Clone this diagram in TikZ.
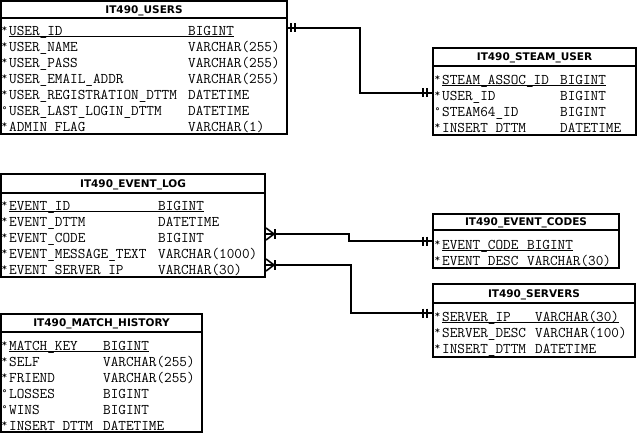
\documentclass[tikz,border=0pt]{standalone}
\usepackage{fontspec}
\newfontfamily\titlefont{DejaVu Sans}
\newfontfamily\markfont{DejaVu Sans}
\tikzset{
  tbl/.style={draw, line width=1.6pt},
  ttl/.style={font=\titlefont\bfseries\fontsize{10.5}{10.5}\selectfont, inner sep=0, anchor=base},
  fld/.style={font=\ttfamily\fontsize{14.8}{14.8}\selectfont, anchor=base west, inner sep=0},
  mk/.style={font=\markfont\bfseries\fontsize{9}{9}\selectfont, anchor=base, inner sep=0},
  conn/.style={line width=1.6pt},
  pkline/.style={line width=0.8pt},
}
% #1 id, #2 marker, #3 xmark, #4 xname, #5 xtype, #6 y, #7 field, #8 type
\newcommand\frow[8]{%
  \node[mk] (#1m) at (#3,#6+2.8) {#2};
  \node[fld] (#1n) at (#4,#6+4.5) {#7};
  \node[fld] (#1t) at (#5,#6+4.5) {#8};
}
\newcommand\pkul[1]{%
  \draw[pkline] ([yshift=-1.3pt]#1n.base west) -- ([yshift=-1.3pt]#1t.base east);
}
\begin{document}
\begin{tikzpicture}[x=1pt,y=-1pt]
\useasboundingbox (0,0) rectangle (637,433);
\fill[white] (0,0) rectangle (637,433);

% ---------- IT490_USERS ----------
\draw[tbl] (1,1) rectangle (287,134);
\draw[tbl] (1,18) -- (287,18);
\node[ttl] (usersT) at (144,13.4) {IT490\_USERS};
\frow{ua}{*}{4.5}{9}{188}{31}{USER\_ID}{BIGINT}
\frow{ub}{*}{4.5}{9}{188}{47}{USER\_NAME}{VARCHAR(255)}
\frow{uc}{*}{4.5}{9}{188}{63}{USER\_PASS}{VARCHAR(255)}
\frow{ud}{*}{4.5}{9}{188}{79}{USER\_EMAIL\_ADDR}{VARCHAR(255)}
\frow{ue}{*}{4.5}{9}{188}{95}{USER\_REGISTRATION\_DTTM}{DATETIME}
\frow{uf}{°}{4.5}{9}{188}{111}{USER\_LAST\_LOGIN\_DTTM}{DATETIME}
\frow{ug}{*}{4.5}{9}{188}{127}{ADMIN\_FLAG}{VARCHAR(1)}
\pkul{ua}

% ---------- IT490_STEAM_USER ----------
\draw[tbl] (433,48) rectangle (636,135);
\draw[tbl] (433,66) -- (636,66);
\node[ttl] (steamT) at (534.5,60.9) {IT490\_STEAM\_USER};
\frow{sa}{*}{437.5}{442}{560}{80}{STEAM\_ASSOC\_ID}{BIGINT}
\frow{sb}{*}{437.5}{442}{560}{96}{USER\_ID}{BIGINT}
\frow{sc}{°}{437.5}{442}{560}{112}{STEAM64\_ID}{BIGINT}
\frow{sd}{*}{437.5}{442}{560}{128}{INSERT\_DTTM}{DATETIME}
\pkul{sa}

% ---------- IT490_EVENT_LOG ----------
\draw[tbl] (1,174) rectangle (265,277);
\draw[tbl] (1,193) -- (265,193);
\node[ttl] (logT) at (133,187.4) {IT490\_EVENT\_LOG};
\frow{la}{*}{4.5}{9}{158}{206}{EVENT\_ID}{BIGINT}
\frow{lb}{*}{4.5}{9}{158}{222}{EVENT\_DTTM}{DATETIME}
\frow{lc}{*}{4.5}{9}{158}{238}{EVENT\_CODE}{BIGINT}
\frow{ld}{*}{4.5}{9}{158}{254}{EVENT\_MESSAGE\_TEXT}{VARCHAR(1000)}
\frow{le}{*}{4.5}{9}{158}{270}{EVENT\_SERVER\_IP}{VARCHAR(30)}
\pkul{la}

% ---------- IT490_EVENT_CODES ----------
\draw[tbl] (433,214) rectangle (619,268);
\draw[tbl] (433,230) -- (619,230);
\node[ttl] (codesT) at (526,225.9) {IT490\_EVENT\_CODES};
\frow{ca}{*}{437.5}{442}{527}{245}{EVENT\_CODE}{BIGINT}
\frow{cb}{*}{437.5}{442}{527}{261}{EVENT\_DESC}{VARCHAR(30)}
\pkul{ca}

% ---------- IT490_SERVERS ----------
\draw[tbl] (433,284) rectangle (635,357);
\draw[tbl] (433,303) -- (635,303);
\node[ttl] (srvT) at (534,297.4) {IT490\_SERVERS};
\frow{va}{*}{437.5}{442}{535}{317}{SERVER\_IP}{VARCHAR(30)}
\frow{vb}{*}{437.5}{442}{535}{333}{SERVER\_DESC}{VARCHAR(100)}
\frow{vc}{*}{437.5}{442}{535}{349}{INSERT\_DTTM}{DATETIME}
\pkul{va}

% ---------- IT490_MATCH_HISTORY ----------
\draw[tbl] (1,314) rectangle (202,432);
\draw[tbl] (1,332) -- (202,332);
\node[ttl] (matchT) at (101.5,326.9) {IT490\_MATCH\_HISTORY};
\frow{ma}{*}{4.5}{9}{103}{346}{MATCH\_KEY}{BIGINT}
\frow{mb}{*}{4.5}{9}{103}{362}{SELF}{VARCHAR(255)}
\frow{mc}{*}{4.5}{9}{103}{378}{FRIEND}{VARCHAR(255)}
\frow{md}{°}{4.5}{9}{103}{394}{LOSSES}{BIGINT}
\frow{me}{°}{4.5}{9}{103}{410}{WINS}{BIGINT}
\frow{mf}{*}{4.5}{9}{103}{426}{INSERT\_DTTM}{DATETIME}
\pkul{ma}

% ---------- connectors ----------
% USERS -> STEAM_USER
\coordinate (c1a) at (287,28);
\coordinate (c1m) at (360,0);
\coordinate (c1b) at (433,93);
\draw[conn] (c1a) -| (c1m |- c1b) -- (c1b);
\draw[conn] ([xshift=4pt]c1a) ++(0,-4.5) -- ++(0,9);
\draw[conn] ([xshift=8pt]c1a) ++(0,-4.5) -- ++(0,9);
\draw[conn] ([xshift=-10pt]c1b) ++(0,-4.5) -- ++(0,9);
\draw[conn] ([xshift=-6pt]c1b) ++(0,-4.5) -- ++(0,9);

% EVENT_LOG -> EVENT_CODES
\coordinate (c2a) at (265,234);
\coordinate (c2m) at (349,0);
\coordinate (c2b) at (433,241);
\draw[conn] (c2a) -| (c2m |- c2b) -- (c2b);
\draw[conn] ([shift={(1,-6)}]c2a) -- ([xshift=9pt]c2a) -- ([shift={(1,6)}]c2a);
\draw[conn] ([xshift=10pt]c2a) ++(0,-5) -- ++(0,10);
\draw[conn] ([xshift=-10pt]c2b) ++(0,-4.5) -- ++(0,9);
\draw[conn] ([xshift=-6pt]c2b) ++(0,-4.5) -- ++(0,9);

% EVENT_LOG -> SERVERS
\coordinate (c3a) at (265,265);
\coordinate (c3m) at (351,0);
\coordinate (c3b) at (433,313);
\draw[conn] (c3a) -| (c3m |- c3b) -- (c3b);
\draw[conn] ([shift={(1,-6)}]c3a) -- ([xshift=9pt]c3a) -- ([shift={(1,6)}]c3a);
\draw[conn] ([xshift=10pt]c3a) ++(0,-5) -- ++(0,10);
\draw[conn] ([xshift=-10pt]c3b) ++(0,-4.5) -- ++(0,9);
\draw[conn] ([xshift=-6pt]c3b) ++(0,-4.5) -- ++(0,9);
\end{tikzpicture}
\end{document}
